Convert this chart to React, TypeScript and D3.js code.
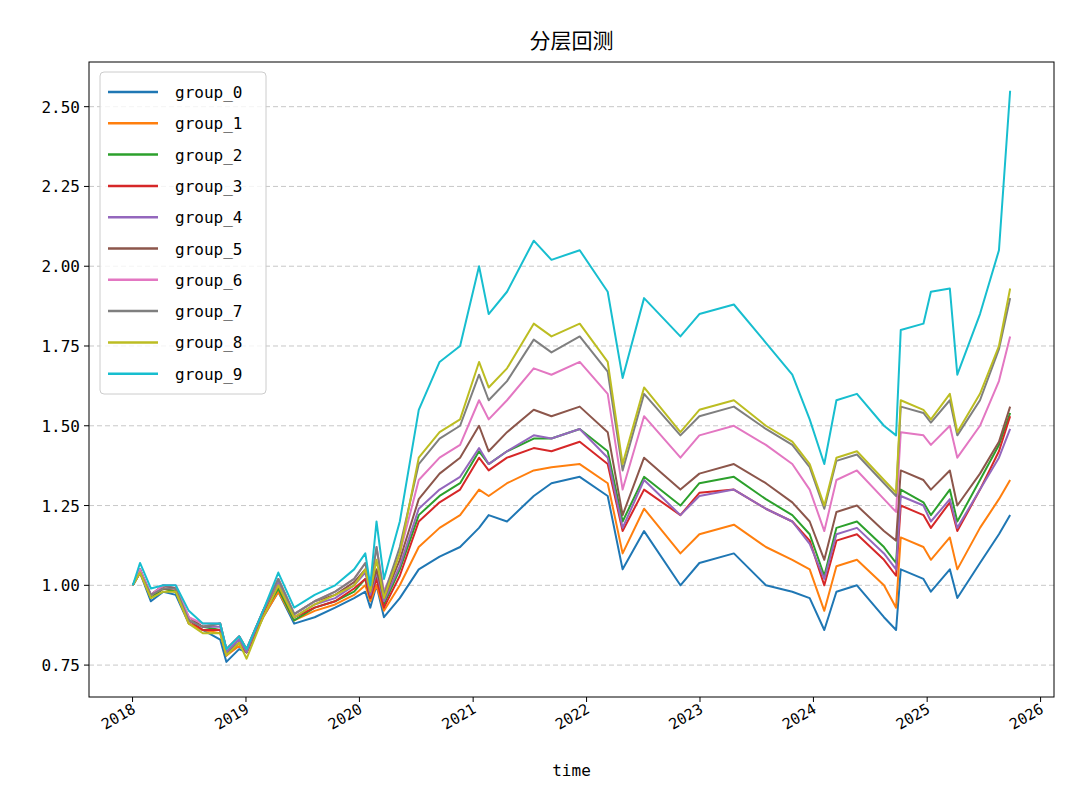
import * as d3 from "d3";

const dates = [
  "2018-01-02", "2018-01-25", "2018-03-01", "2018-04-10", "2018-05-20", "2018-07-01", "2018-08-15", "2018-10-10", "2018-10-30", "2018-12-10",
  "2019-01-03", "2019-02-25", "2019-04-15", "2019-06-05", "2019-08-10", "2019-10-15", "2019-12-15", "2020-01-20", "2020-02-05",
  "2020-02-25", "2020-03-20", "2020-05-10", "2020-07-10", "2020-09-15", "2020-11-20", "2021-01-20", "2021-02-20", "2021-04-20",
  "2021-07-15", "2021-09-10", "2021-12-10", "2022-03-10", "2022-04-27", "2022-07-05", "2022-10-30", "2022-12-30", "2023-04-20",
  "2023-08-01", "2023-10-25", "2023-12-20", "2024-02-05", "2024-03-15", "2024-05-20", "2024-08-15", "2024-09-23", "2024-10-08",
  "2024-12-20", "2025-01-13", "2025-03-15", "2025-04-08", "2025-06-20", "2025-08-20", "2025-09-25",
];

const group0 = [1.00, 1.04, 0.95, 0.98, 0.97, 0.88, 0.86, 0.83, 0.76, 0.80, 0.79, 0.90, 0.98, 0.88, 0.90, 0.93, 0.96, 0.98, 0.93,
  1.00, 0.90, 0.96, 1.05, 1.09, 1.12, 1.18, 1.22, 1.20, 1.28, 1.32, 1.34, 1.28, 1.05, 1.17, 1.00, 1.07, 1.10, 1.00, 0.98, 0.96,
  0.86, 0.98, 1.00, 0.90, 0.86, 1.05, 1.02, 0.98, 1.05, 0.96, 1.07, 1.16, 1.22];
const group1 = [1.00, 1.04, 0.96, 0.99, 0.98, 0.88, 0.86, 0.85, 0.78, 0.81, 0.79, 0.90, 0.98, 0.89, 0.92, 0.94, 0.97, 1.00, 0.95,
  1.00, 0.92, 1.00, 1.12, 1.18, 1.22, 1.30, 1.28, 1.32, 1.36, 1.37, 1.38, 1.32, 1.10, 1.24, 1.10, 1.16, 1.19, 1.12, 1.08, 1.05,
  0.92, 1.06, 1.08, 1.00, 0.93, 1.15, 1.12, 1.08, 1.15, 1.05, 1.18, 1.27, 1.33];
const group2 = [1.00, 1.05, 0.96, 0.99, 0.98, 0.89, 0.87, 0.86, 0.79, 0.82, 0.79, 0.91, 0.99, 0.89, 0.93, 0.95, 0.98, 1.02, 0.96,
  1.03, 0.94, 1.05, 1.22, 1.28, 1.32, 1.42, 1.38, 1.42, 1.46, 1.46, 1.49, 1.42, 1.20, 1.34, 1.25, 1.32, 1.34, 1.27, 1.22, 1.16,
  1.03, 1.18, 1.20, 1.12, 1.07, 1.30, 1.26, 1.22, 1.30, 1.20, 1.33, 1.44, 1.54];
const group3 = [1.00, 1.04, 0.97, 0.99, 0.99, 0.89, 0.86, 0.86, 0.78, 0.82, 0.79, 0.91, 1.00, 0.90, 0.93, 0.95, 0.99, 1.02, 0.96,
  1.02, 0.93, 1.03, 1.20, 1.26, 1.30, 1.40, 1.36, 1.40, 1.43, 1.42, 1.45, 1.38, 1.17, 1.30, 1.22, 1.29, 1.30, 1.24, 1.20, 1.14,
  1.00, 1.14, 1.16, 1.08, 1.03, 1.25, 1.22, 1.18, 1.26, 1.17, 1.30, 1.42, 1.53];
const group4 = [1.00, 1.05, 0.97, 1.00, 0.99, 0.89, 0.87, 0.87, 0.79, 0.83, 0.79, 0.92, 1.01, 0.90, 0.94, 0.96, 1.00, 1.04, 0.97,
  1.04, 0.95, 1.06, 1.24, 1.30, 1.34, 1.43, 1.38, 1.42, 1.47, 1.46, 1.49, 1.40, 1.18, 1.33, 1.22, 1.28, 1.30, 1.24, 1.20, 1.13,
  1.02, 1.16, 1.18, 1.10, 1.05, 1.28, 1.25, 1.20, 1.27, 1.18, 1.30, 1.40, 1.49];
const group5 = [1.00, 1.05, 0.97, 1.00, 0.99, 0.90, 0.87, 0.88, 0.80, 0.84, 0.80, 0.92, 1.02, 0.91, 0.95, 0.97, 1.01, 1.05, 0.98,
  1.05, 0.96, 1.08, 1.27, 1.35, 1.40, 1.50, 1.42, 1.48, 1.55, 1.53, 1.56, 1.48, 1.22, 1.40, 1.30, 1.35, 1.38, 1.32, 1.26, 1.20,
  1.08, 1.23, 1.25, 1.17, 1.14, 1.36, 1.33, 1.30, 1.36, 1.25, 1.35, 1.45, 1.56];
const group6 = [1.00, 1.05, 0.97, 1.00, 1.00, 0.90, 0.88, 0.88, 0.80, 0.84, 0.80, 0.92, 1.02, 0.91, 0.95, 0.98, 1.02, 1.07, 0.99,
  1.12, 0.98, 1.10, 1.33, 1.40, 1.44, 1.58, 1.52, 1.58, 1.68, 1.66, 1.70, 1.60, 1.30, 1.53, 1.40, 1.47, 1.50, 1.44, 1.38, 1.30,
  1.17, 1.33, 1.36, 1.27, 1.23, 1.48, 1.47, 1.44, 1.50, 1.40, 1.50, 1.64, 1.78];
const group7 = [1.00, 1.04, 0.97, 0.99, 0.99, 0.89, 0.87, 0.88, 0.80, 0.84, 0.80, 0.92, 1.02, 0.91, 0.95, 0.98, 1.02, 1.07, 0.99,
  1.12, 0.97, 1.12, 1.38, 1.46, 1.50, 1.66, 1.58, 1.64, 1.77, 1.73, 1.78, 1.67, 1.36, 1.60, 1.47, 1.53, 1.56, 1.49, 1.44, 1.37,
  1.24, 1.39, 1.41, 1.32, 1.28, 1.56, 1.54, 1.51, 1.58, 1.47, 1.58, 1.74, 1.90];
const group8 = [1.00, 1.04, 0.96, 0.98, 0.98, 0.88, 0.85, 0.85, 0.78, 0.82, 0.77, 0.90, 1.00, 0.90, 0.94, 0.97, 1.00, 1.05, 0.98,
  1.08, 0.96, 1.10, 1.40, 1.48, 1.52, 1.70, 1.62, 1.68, 1.82, 1.78, 1.82, 1.70, 1.38, 1.62, 1.48, 1.55, 1.58, 1.50, 1.45, 1.38,
  1.25, 1.40, 1.42, 1.33, 1.29, 1.58, 1.55, 1.52, 1.60, 1.48, 1.60, 1.75, 1.93];
const group9 = [1.00, 1.07, 0.99, 1.00, 1.00, 0.92, 0.88, 0.88, 0.80, 0.84, 0.80, 0.92, 1.04, 0.93, 0.97, 1.00, 1.05, 1.10, 1.00,
  1.20, 1.02, 1.20, 1.55, 1.70, 1.75, 2.00, 1.85, 1.92, 2.08, 2.02, 2.05, 1.92, 1.65, 1.90, 1.78, 1.85, 1.88, 1.76, 1.66, 1.52,
  1.38, 1.58, 1.60, 1.50, 1.47, 1.80, 1.82, 1.92, 1.93, 1.66, 1.85, 2.05, 2.55];

const seriesNames = ["group_0", "group_1", "group_2", "group_3", "group_4", "group_5", "group_6", "group_7", "group_8", "group_9"];
const seriesValues = [group0, group1, group2, group3, group4, group5, group6, group7, group8, group9];
const colors = d3.schemeCategory10;
const yTicks = [0.75, 1.0, 1.25, 1.5, 1.75, 2.0, 2.25, 2.5];

const W = 1080, H = 810;
const m = { left: 89, right: 1054, top: 62, bottom: 697 };
const font = "'Noto Sans CJK SC', 'DejaVu Sans', sans-serif";
const mono = "'DejaVu Sans Mono', 'Liberation Mono', monospace";

export default function App() {
  const parse = d3.timeParse("%Y-%m-%d");
  const times = dates.map((d) => parse(d) as Date);
  const t0 = +times[0], t1 = +times[times.length - 1];
  const pad = (t1 - t0) * 0.05;
  const x = d3.scaleTime().domain([new Date(t0 - pad), new Date(t1 + pad)]).range([m.left, m.right]);
  const y = d3.scaleLinear().domain([0.65, 2.64]).range([m.bottom, m.top]);
  const line = d3.line<[Date, number]>().x((d) => x(d[0])).y((d) => y(d[1]));
  const xTicks = d3.range(2018, 2027).map((yr) => new Date(yr, 0, 1));

  return (
    <svg width={W} height={H} style={{ position: "absolute", left: 0, top: 0, background: "#fff" }} fontFamily={font}>
      <rect x={0} y={0} width={W} height={H} fill="#fff" />
      <text x={(m.left + m.right) / 2} y={48} textAnchor="middle" fontSize={21}>分层回测</text>
      {yTicks.map((t) => (
        <g key={t}>
          <line x1={m.left} x2={m.right} y1={y(t)} y2={y(t)} stroke="#b0b0b0" strokeOpacity={0.7} strokeDasharray="5,3" />
          <line x1={m.left - 5} x2={m.left} y1={y(t)} y2={y(t)} stroke="#000" />
          <text x={m.left - 9} y={y(t) + 6} textAnchor="end" fontSize={16} fontFamily={mono}>{t.toFixed(2)}</text>
        </g>
      ))}
      {xTicks.map((t) => (
        <g key={+t}>
          <line x1={x(t)} x2={x(t)} y1={m.bottom} y2={m.bottom + 5} stroke="#000" />
          <text transform={`translate(${x(t) + 4},${m.bottom + 15}) rotate(-30)`} textAnchor="end" fontSize={15} fontFamily={mono}>{t.getFullYear()}</text>
        </g>
      ))}
      <text x={(m.left + m.right) / 2} y={776} textAnchor="middle" fontSize={16} fontFamily={mono}>time</text>
      <g>
        {seriesValues.map((vals, i) => (
          <path key={i} d={line(times.map((t, j) => [t, vals[j]] as [Date, number]).filter((p) => p[1] != null)) || ""}
            fill="none" stroke={colors[i]} strokeWidth={2} strokeLinejoin="round" />
        ))}
      </g>
      <rect x={m.left} y={m.top} width={m.right - m.left} height={m.bottom - m.top} fill="none" stroke="#000" />
      <rect x={100} y={72} width={166} height={322} rx={4} fill="#fff" fillOpacity={0.8} stroke="#ccc" />
      {seriesNames.map((n, i) => (
        <g key={n}>
          <line x1={108} x2={158} y1={92 + i * 31.3} y2={92 + i * 31.3} stroke={colors[i]} strokeWidth={2.5} />
          <text x={175} y={98 + i * 31.3} fontSize={16} fontFamily={mono}>{n}</text>
        </g>
      ))}
    </svg>
  );
}
